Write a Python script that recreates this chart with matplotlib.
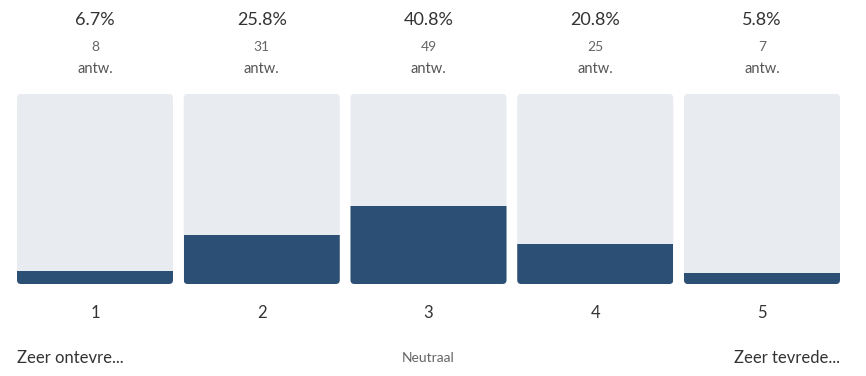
import matplotlib.pyplot as plt
from matplotlib.patches import FancyBboxPatch, Rectangle
from matplotlib.transforms import blended_transform_factory

categories = ['1', '2', '3', '4', '5']
percentages = [6.7, 25.8, 40.8, 20.8, 5.8]
counts = [8, 31, 49, 25, 7]
scale_labels = ['Zeer ontevre...', 'Neutraal', 'Zeer tevrede...']

plt.rcParams['font.family'] = ['Lato', 'DejaVu Sans']

W, H = 866, 376
fig = plt.figure(figsize=(W / 100, H / 100), dpi=100)
ax = fig.add_axes([17 / W, (H - 284) / H, 823 / W, 190 / H])

bar_w = 156 / 166.75
ax.set_xlim(-bar_w / 2, len(categories) - 1 + bar_w / 2)
ax.set_ylim(0, 100)
ax.axis('off')

px_x = 166.75
px_y = 1.9
radius = 4 / px_x
for i, pct in enumerate(percentages):
    bg = FancyBboxPatch((i - bar_w / 2, 0), bar_w, 100,
                        boxstyle=f'round,pad=0,rounding_size={radius}',
                        mutation_aspect=px_x / px_y,
                        facecolor='#e8ebf0', edgecolor='none')
    ax.add_patch(bg)
    fill = Rectangle((i - bar_w / 2, 0), bar_w, pct, facecolor='#2c5075', edgecolor='none')
    ax.add_patch(fill)
    fill.set_clip_path(bg)

tr = blended_transform_factory(ax.transData, fig.transFigure)
for i, (cat, pct, n) in enumerate(zip(categories, percentages, counts)):
    ax.text(i, 1 - 20 / H, f'{pct}%', transform=tr, ha='center', va='center',
            fontsize=13, color='#333333')
    ax.text(i, 1 - 47 / H, str(n), transform=tr, ha='center', va='center',
            fontsize=10, color='#666666')
    ax.text(i, 1 - 69 / H, 'antw.', transform=tr, ha='center', va='center',
            fontsize=10.5, color='#555555')
    ax.text(i, 1 - 313 / H, cat, transform=tr, ha='center', va='center',
            fontsize=12, color='#333333')

fig.text(17 / W, 1 - 358 / H, scale_labels[0], ha='left', va='center',
         fontsize=12, color='#333333')
ax.text(2, 1 - 358 / H, scale_labels[1], transform=tr, ha='center', va='center',
        fontsize=10, color='#666666')
fig.text(840 / W, 1 - 358 / H, scale_labels[2], ha='right', va='center',
         fontsize=12, color='#333333')

fig.savefig('out.png', dpi=100)
